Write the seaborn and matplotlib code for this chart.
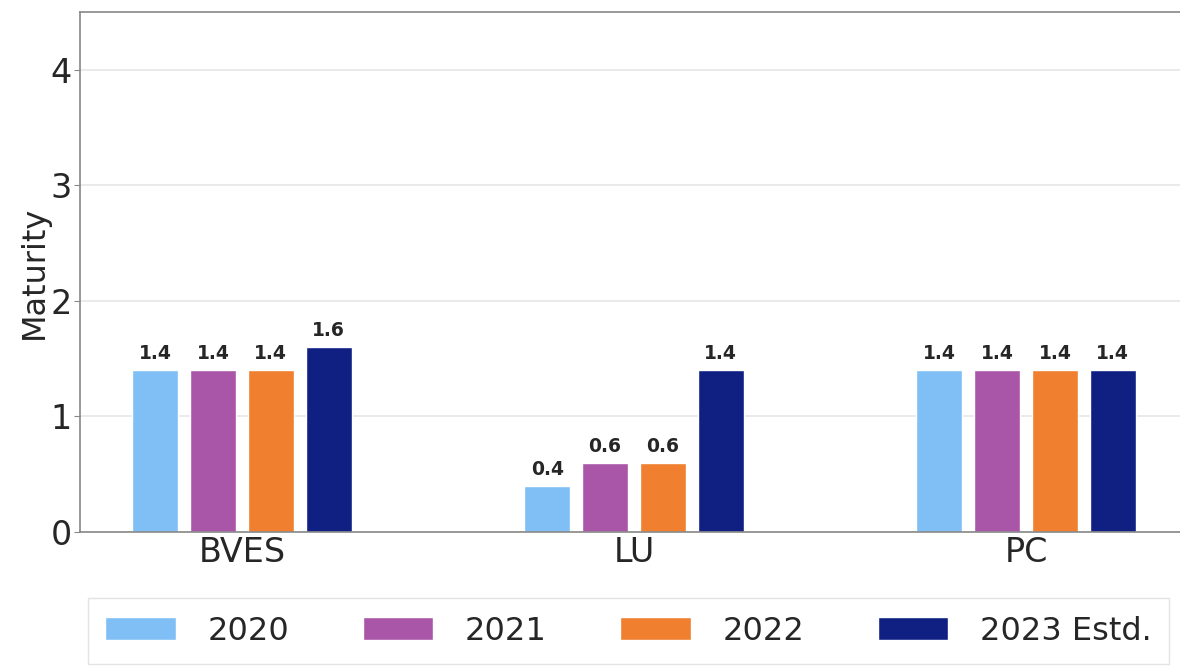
import pandas as pd
import seaborn as sns
from matplotlib import pyplot as plt

groups = ["BVES", "LU", "PC"]
years = ["2020", "2021", "2022", "2023 Estd."]
v2020 = [1.4, 0.4, 1.4]
v2021 = [1.4, 0.6, 1.4]
v2022 = [1.4, 0.6, 1.4]
v2023 = [1.6, 1.4, 1.4]
colors = ["#80bff5", "#a956a8", "#f0802f", "#101f82"]

rows = []
for year, vals in zip(years, [v2020, v2021, v2022, v2023]):
    for g, v in zip(groups, vals):
        rows.append({"group": g, "year": year, "value": v})
df = pd.DataFrame(rows)

sns.set_style("whitegrid")
plt.rcParams['font.family'] = ['DejaVu Sans']

fig = plt.figure(figsize=(11.8, 6.66), dpi=100)
ax = fig.add_axes([80 / 1180, 134 / 666, 1108 / 1180, 520 / 666])

sns.barplot(data=df, x="group", y="value", hue="year", palette=colors,
            width=0.59, gap=0.2, ax=ax, saturation=1)

for c in ax.containers:
    ax.bar_label(c, fmt="%.1f", padding=5, fontsize=13.5, fontweight="bold")

ax.set_ylim(0, 4.5)
ax.set_xlim(-0.413, 2.413)
ax.set_yticks([0, 1, 2, 3, 4])
ax.set_xlabel("")
ax.set_ylabel("Maturity", fontsize=23, labelpad=0)
ax.tick_params(axis="both", labelsize=24, length=4, color="#888888")
ax.tick_params(axis="x", length=0, pad=3)
ax.tick_params(axis="y", left=True, pad=2)
ax.grid(axis="x", visible=False)
ax.grid(axis="y", color="#e6e6e6", linewidth=1.2)
for s in ax.spines.values():
    s.set_color("#888888")
    s.set_linewidth(1.2)

ax.legend(loc="upper left", bbox_to_anchor=(0.007, -0.127), ncol=4,
          fontsize=23, frameon=True, edgecolor="#dddddd", fancybox=False,
          handlelength=2.2, handleheight=0.7, columnspacing=2.3,
          borderpad=0.55, handletextpad=1.0, borderaxespad=0)

fig.savefig("out.png", dpi=100)
